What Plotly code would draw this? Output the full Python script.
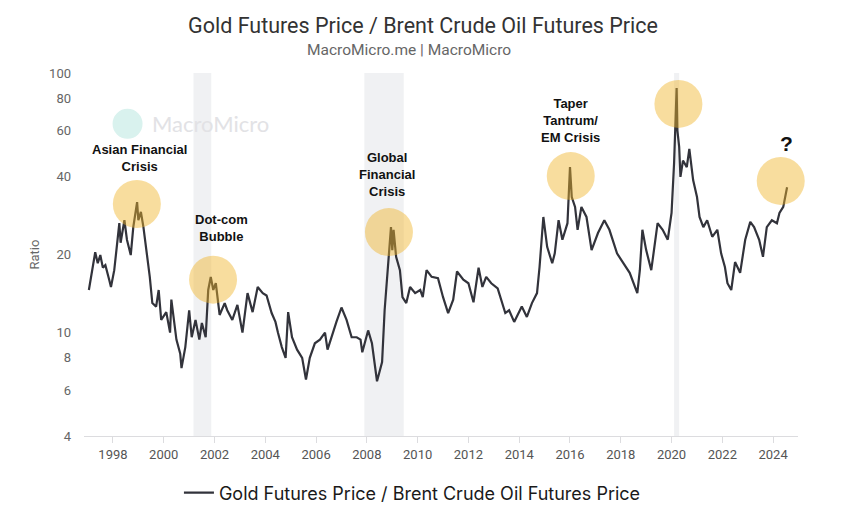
import plotly.graph_objects as go
import pandas as pd
import numpy as np

# ---- data ----
years_dec = [
    1997.05, 1997.12, 1997.30, 1997.40, 1997.50, 1997.60, 1997.70, 1997.85, 1997.92,
    1998.05, 1998.15, 1998.25, 1998.30, 1998.45, 1998.55, 1998.70, 1998.80, 1998.95,
    1999.00, 1999.10, 1999.20, 1999.35, 1999.45, 1999.55, 1999.70, 1999.80, 1999.90,
    2000.10, 2000.25, 2000.30, 2000.50, 2000.65, 2000.70, 2000.85,
    2001.00, 2001.10, 2001.25, 2001.40, 2001.50, 2001.65, 2001.75, 2001.85, 2001.95,
    2002.05, 2002.20, 2002.40, 2002.50, 2002.70, 2002.90,
    2003.10, 2003.30, 2003.50, 2003.70, 2003.90,
    2004.05, 2004.25, 2004.40, 2004.50, 2004.65, 2004.80, 2004.90,
    2005.05, 2005.25, 2005.45, 2005.60, 2005.75, 2005.95,
    2006.15, 2006.35, 2006.45, 2006.65, 2006.80,
    2007.00, 2007.20, 2007.40, 2007.60, 2007.75, 2007.82,
    2008.05, 2008.20, 2008.40, 2008.60, 2008.70, 2008.83, 2008.95,
    2009.00, 2009.05, 2009.15, 2009.30, 2009.40, 2009.55, 2009.70, 2009.90,
    2010.10, 2010.20, 2010.35, 2010.55, 2010.80,
    2011.00, 2011.20, 2011.40, 2011.55, 2011.80,
    2012.00, 2012.20, 2012.40, 2012.55, 2012.70, 2012.90,
    2013.15, 2013.45, 2013.60, 2013.80,
    2014.10, 2014.30, 2014.50, 2014.70, 2014.80, 2014.95,
    2015.10, 2015.30, 2015.40, 2015.55, 2015.70, 2015.90,
    2016.00, 2016.07, 2016.20, 2016.30, 2016.45, 2016.65, 2016.85,
    2017.10, 2017.35, 2017.55, 2017.85,
    2018.10, 2018.35, 2018.65, 2018.75, 2018.85,
    2019.00, 2019.20, 2019.35, 2019.45, 2019.65, 2019.85,
    2020.00, 2020.10, 2020.20, 2020.23, 2020.30, 2020.35, 2020.45, 2020.60, 2020.70, 2020.85,
    2021.00, 2021.10, 2021.25, 2021.40, 2021.60, 2021.80, 2021.95,
    2022.10, 2022.20, 2022.35, 2022.50, 2022.70, 2022.90,
    2023.10, 2023.25, 2023.45, 2023.60, 2023.75, 2023.95,
    2024.15, 2024.25, 2024.40, 2024.55,
]
ratio = [
    14.6, 16.0, 20.4, 18.5, 19.9, 17.8, 18.2, 16.0, 15.0,
    17.4, 21.4, 26.4, 22.2, 27.1, 22.8, 19.9, 25.5, 31.8,
    27.1, 29.2, 25.5, 19.6, 16.4, 13.0, 12.6, 14.6, 11.2,
    12.0, 10.0, 13.4, 9.4, 8.3, 7.3, 8.8,
    12.2, 9.6, 11.2, 9.4, 10.9, 9.6, 14.6, 16.4, 14.6,
    15.5, 11.7, 13.0, 12.2, 11.2, 12.8,
    10.0, 14.2, 12.0, 15.0, 14.2,
    13.9, 11.9, 11.0, 10.0, 8.8, 8.0, 12.0,
    9.6, 8.6, 8.0, 6.6, 8.0, 9.1,
    9.4, 10.0, 8.6, 10.0, 11.0,
    12.5, 11.2, 9.6, 9.6, 9.4, 8.4,
    10.2, 9.1, 6.5, 7.7, 12.2, 17.9, 25.5,
    20.8, 24.9, 19.6, 17.4, 13.7, 13.0, 15.0, 14.2,
    14.6, 13.7, 17.4, 16.4, 16.2,
    13.7, 11.9, 13.4, 17.2, 16.0,
    15.5, 13.1, 17.8, 15.0, 16.4, 15.5,
    14.8, 11.9, 12.2, 11.0,
    12.6, 11.5, 13.0, 14.2, 17.9, 27.9,
    21.4, 18.5, 20.2, 27.1, 22.8, 26.4,
    43.4, 33.3, 30.5, 24.9, 30.5, 27.9, 20.8,
    24.2, 27.1, 24.9, 20.2,
    18.5, 17.0, 14.2, 17.4, 24.9,
    20.8, 17.4, 22.2, 26.4, 24.9, 22.8,
    28.9, 45.0, 87.6, 60.0, 52.0, 39.8, 46.0, 43.4, 51.0, 38.7,
    33.3, 27.9, 25.5, 27.1, 23.4, 24.9, 20.2,
    17.9, 15.5, 14.6, 18.7, 17.0, 22.8,
    26.7, 25.5, 22.8, 19.6, 25.5, 27.1,
    26.4, 28.9, 30.5, 36.3,
]

# recession / crisis shading periods (decimal years)
band_start = [2001.17, 2007.90, 2020.10]
band_end = [2001.87, 2009.45, 2020.30]

# highlighted events: circle centres and labels
event_x = [1998.94, 2001.94, 2008.87, 2016.03, 2020.27, 2024.30]
event_y = [31.3, 16.0, 24.4, 40.1, 76.0, 38.4]
label_text = ["Asian Financial<br>Crisis", "Dot-com<br>Bubble", "Global<br>Financial<br>Crisis",
              "Taper<br>Tantrum/<br>EM Crisis", "Covid-19", "?"]
label_x = [1999.06, 2002.29, 2008.79, 2016.03, 2020.27, 2024.53]
label_y = [47.1, 25.3, 40.5, 65.9, 101.5, 53.7]
label_size = [13, 13, 13, 13, 13, 21]

y_ticks = [4, 6, 8, 10, 20, 40, 60, 80, 100]
x_tick_years = list(range(1998, 2025, 2))

TITLE = "Gold Futures Price / Brent Crude Oil Futures Price"
SUBTITLE = "MacroMicro.me | MacroMicro"
SERIES = "Gold Futures Price / Brent Crude Oil Futures Price"

W, H = 830, 511   # page body has an 8px margin inside the 846x527 window


def dec_to_date(y):
    yr = int(np.floor(y))
    frac = y - yr
    return pd.Timestamp(year=yr, month=1, day=1) + pd.Timedelta(days=frac * 365.25)


dates = [dec_to_date(v) for v in years_dec]

fig = go.Figure()

fig.add_trace(go.Scatter(
    x=dates, y=ratio, mode="lines",
    line=dict(color="#32333b", width=2.2),
    name=SERIES, showlegend=True,
))

fig.add_trace(go.Scatter(
    x=[dec_to_date(v) for v in event_x], y=event_y, mode="markers",
    marker=dict(size=48, color="rgba(240,180,40,0.45)", line=dict(width=0)),
    showlegend=False, hoverinfo="skip", cliponaxis=False,
))

shapes = []
for s, e in zip(band_start, band_end):
    shapes.append(dict(type="rect", xref="x", yref="paper",
                       x0=dec_to_date(s), x1=dec_to_date(e), y0=0, y1=1,
                       fillcolor="#f0f1f3", line=dict(width=0), layer="below"))
# watermark logo circle
shapes.append(dict(type="circle", xref="paper", yref="paper",
                   xsizemode="pixel", ysizemode="pixel",
                   xanchor=0.061, yanchor=0.86, x0=-15, x1=15, y0=-15, y1=15,
                   fillcolor="#d9f2ee", line=dict(width=0), layer="below"))

annotations = []
for t, lx, ly, sz in zip(label_text, label_x, label_y, label_size):
    annotations.append(dict(
        x=dec_to_date(lx), y=np.log10(ly), xref="x", yref="y",
        text="<b>" + t + "</b>", showarrow=False,
        font=dict(family="Liberation Sans Narrow, Arial Narrow, Liberation Sans, Arial, sans-serif",
                  size=sz, color="#111111"),
        align="center", xanchor="center", yanchor="middle",
    ))
annotations.append(dict(
    x=0.092, y=0.86, xref="paper", yref="paper", text="MacroMicro",
    showarrow=False, xanchor="left", yanchor="middle",
    font=dict(family="Lato, Open Sans, sans-serif", size=22, color="#e2e2e5"),
))
annotations.append(dict(
    x=0.455, y=1 + (73 - 50) / 363, xref="paper", yref="paper", yanchor="middle",
    text=SUBTITLE, showarrow=False,
    font=dict(family="Roboto, Liberation Sans, sans-serif", size=15.5, color="#666666"),
))

fig.update_layout(
    width=W, height=H,
    margin=dict(l=76, r=40, t=65, b=83, autoexpand=False),
    paper_bgcolor="white", plot_bgcolor="white",
    title=dict(
        text=TITLE,
        x=0.5, xanchor="center", xref="container",
        y=1 - 17 / H, yanchor="middle", yref="container",
        font=dict(family="Roboto, Liberation Sans, sans-serif", size=21.5, color="#333333"),
    ),
    xaxis=dict(
        type="date", automargin=False,
        range=[dec_to_date(1996.86), dec_to_date(2024.98)],
        tickvals=[pd.Timestamp(year=y, month=1, day=1) for y in x_tick_years],
        ticktext=[str(y) for y in x_tick_years],
        showgrid=False, zeroline=False,
        showline=True, linecolor="#dcdcdf", linewidth=1,
        ticks="outside", ticklen=6, tickcolor="#dcdcdf",
        tickfont=dict(family="Roboto, Liberation Sans, sans-serif", size=13, color="#555555"),
    ),
    yaxis=dict(
        type="log", automargin=False,
        range=[np.log10(4), 2],
        tickvals=y_ticks, ticktext=[str(v) for v in y_ticks],
        showgrid=False, zeroline=False, showline=False,
        ticks="", ticklabelstandoff=12,
        tickfont=dict(family="Roboto, Liberation Sans, sans-serif", size=13, color="#666666"),
        title=dict(text="Ratio", standoff=6,
                   font=dict(family="Roboto, Liberation Sans, sans-serif", size=13, color="#666666")),
    ),
    legend=dict(
        orientation="h", x=0.46, xanchor="center", y=-(493 - 436) / 363, yanchor="middle",
        font=dict(family="Inter, Noto Sans, sans-serif", size=18, color="#1a1a1a"),
        bgcolor="rgba(0,0,0,0)",
    ),
    shapes=shapes,
    annotations=annotations,
)

fig.write_html("out.html")
